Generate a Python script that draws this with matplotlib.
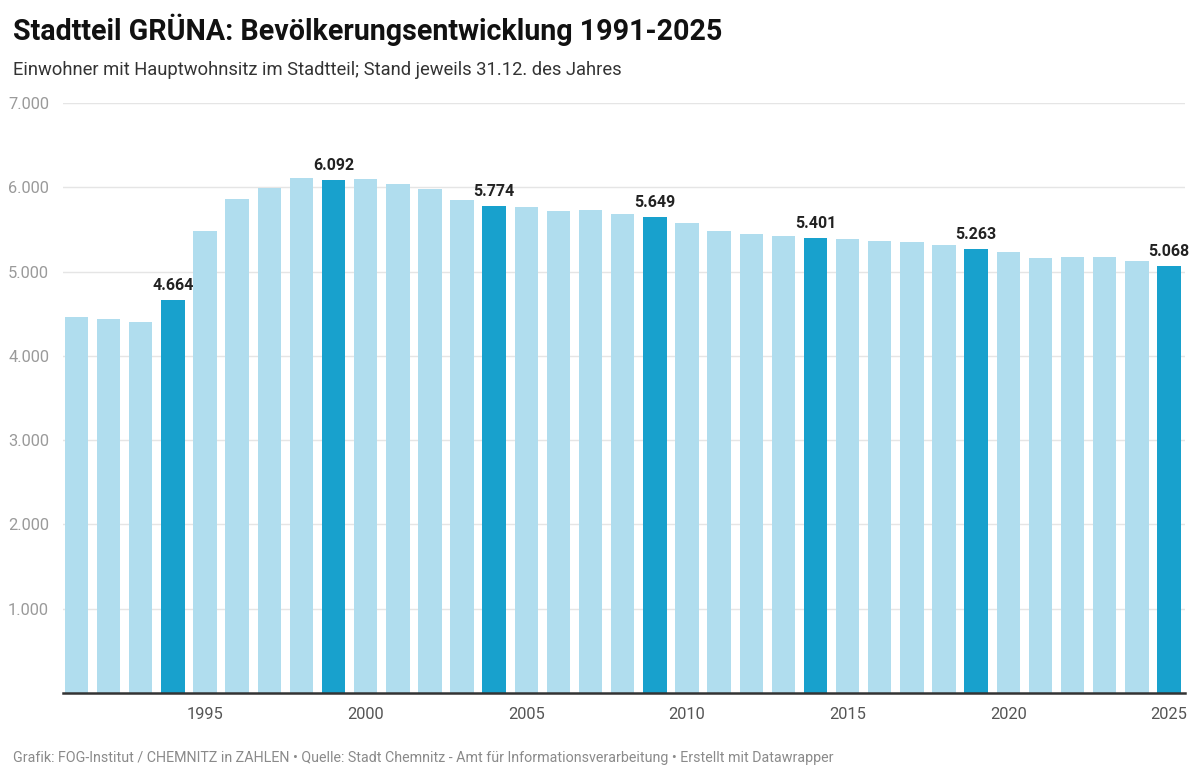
import matplotlib.pyplot as plt
from matplotlib.ticker import FuncFormatter

# ------------------------------------------------------------
# Data: Einwohner Stadtteil Grüna, Stand 31.12.
# ------------------------------------------------------------

years = list(range(1991, 2026))

population = [
    4463, 4436, 4407, 4664, 5480, 5861, 5995, 6106, 6092, 6102,
    6033, 5974, 5843, 5774, 5768, 5716, 5728, 5677, 5649, 5573,
    5486, 5442, 5422, 5401, 5382, 5366, 5354, 5318, 5263, 5235,
    5164, 5176, 5176, 5131, 5068
]

highlight_years = [1994, 1999, 2004, 2009, 2014, 2019, 2025]

tick_years = [1995, 2000, 2005, 2010, 2015, 2020, 2025]
y_ticks = [1000, 2000, 3000, 4000, 5000, 6000, 7000]

title = "Stadtteil GRÜNA: Bevölkerungsentwicklung 1991-2025"
subtitle = "Einwohner mit Hauptwohnsitz im Stadtteil; Stand jeweils 31.12. des Jahres"
footer = ("Grafik: FOG-Institut / CHEMNITZ in ZAHLEN \u2022 Quelle: Stadt Chemnitz - "
          "Amt für Informationsverarbeitung \u2022 Erstellt mit Datawrapper")

light_blue = "#b0ddee"
dark_blue = "#18a1cd"

plt.rcParams["font.family"] = ["Roboto", "DejaVu Sans"]

# ------------------------------------------------------------
# Plot
# ------------------------------------------------------------

fig = plt.figure(figsize=(12, 7.8), dpi=100)
ax = fig.add_axes([0.0525, 0.1115, 0.935, 0.7565])

colors = [dark_blue if y in highlight_years else light_blue for y in years]

ax.bar(years, population, width=0.73, color=colors, zorder=2)

for y, v in zip(years, population):
    if y in highlight_years:
        ax.annotate(
            f"{v:,}".replace(",", "."),
            xy=(y, v),
            xytext=(0, 5),
            textcoords="offset points",
            ha="center",
            va="bottom",
            fontsize=11.5,
            fontweight="bold",
            color="#222222",
        )

ax.set_xlim(1990.58, 2025.5)
ax.set_ylim(0, 7000)

ax.set_yticks(y_ticks)
ax.yaxis.set_major_formatter(FuncFormatter(lambda v, p: f"{int(v):,}".replace(",", ".")))
ax.set_xticks(tick_years)

ax.grid(axis="y", color="#e5e5e5", linewidth=1, zorder=0)
ax.tick_params(axis="both", length=0, labelsize=11.8, colors="#9a9a9a")
ax.tick_params(axis="x", pad=10, colors="#555555")
ax.tick_params(axis="y", pad=10)

for side in ["top", "right", "left"]:
    ax.spines[side].set_visible(False)
ax.spines["bottom"].set_color("#333333")
ax.spines["bottom"].set_linewidth(1.8)
ax.spines["bottom"].set_zorder(3)

fig.text(0.011, 0.962, title, fontsize=20.6, fontweight="bold",
         color="#111111", va="center", ha="left")
fig.text(0.011, 0.910, subtitle, fontsize=13.2, color="#333333",
         va="center", ha="left")
fig.text(0.011, 0.028, footer, fontsize=10.3, color="#8a8a8a",
         va="center", ha="left")

fig.savefig("out.png", dpi=100, facecolor="white")
